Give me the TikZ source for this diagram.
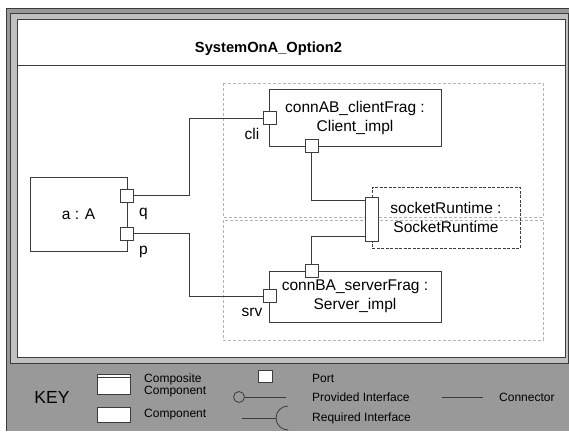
\documentclass[tikz,border=0pt]{standalone}
\usepackage{fontspec}
\setmainfont{Liberation Sans}
\usetikzlibrary{calc}
\definecolor{outergray}{HTML}{999999}
\definecolor{bandgray}{HTML}{C0C0C0}
\definecolor{edge}{HTML}{3C3C3C}
\definecolor{grpgray}{HTML}{B4B4B4}
\newcommand{\cmpfnt}{\fontsize{15.5}{19}\selectfont}
\newcommand{\keyfnt}{\fontsize{12}{14}\selectfont}
\newcommand{\ttlfnt}{\fontsize{14.7}{17}\selectfont\bfseries}
\newcommand{\bigkeyfnt}{\fontsize{17.5}{20}\selectfont}
\begin{document}
\begin{tikzpicture}[x=1pt,y=-1pt,
  comp/.style={draw=edge, line width=0.8pt, fill=white, inner sep=0pt, align=center, font=\cmpfnt},
  port/.style={draw=edge, line width=0.8pt, fill=white, minimum width=13pt, minimum height=13pt, inner sep=0pt},
  conn/.style={draw=edge, line width=0.8pt},
  lbl/.style={inner sep=0pt, font=\cmpfnt},
  keybox/.style={draw=edge, line width=0.8pt, fill=white, inner sep=0pt},
  keytxt/.style={inner sep=0pt, anchor=west, font=\keyfnt},
  frame/.style={draw=edge, line width=1pt},
  grp/.style={draw=grpgray, dash pattern=on 3pt off 2pt, line width=0.7pt}]
\useasboundingbox (0,0) rectangle (569,431);
\fill[white] (0,0) rectangle (569,431);
% outer frame
\fill[outergray] (6,8) rectangle (569,431);
\draw[frame] (6,431) -- (6,8) -- (569,8);
\filldraw[frame, fill=bandgray] (10,13) rectangle (568,363);
\filldraw[frame, fill=white] (17,19) rectangle (565,357);
\draw[frame] (17,65) -- (565,65);
\node[font=\ttlfnt, anchor=base, inner sep=0pt] (title) at (268.5,52.5) {SystemOnA\_Option2};
% groups
\draw[grp] (223,83) rectangle (543,217);
\draw[grp] (223,220) rectangle (543,340);
% component a
\node[comp, minimum width=97pt, minimum height=74pt] (a) at (78.5,214) {a : A};
\node[port] (q) at (126.5,195.5) {};
\node[port] (p) at (126.5,233.5) {};
\node[lbl] (ql) at (143.5,214) {q};
\node[lbl] (pl) at (143.5,252) {p};
% client
\node[comp, minimum width=172pt, minimum height=57pt] (cab) at (355,117.5) {connAB\_clientFrag :\\Client\_impl};
\node[port] (cli) at (269.5,118) {};
\node[port] (cb) at (311.5,145.5) {};
\node[lbl] (clil) at (252,134) {cli};
% socket
\node[comp, fill=none, dash pattern=on 3pt off 1.5pt, minimum width=148pt, minimum height=61pt] (sock) at (446,217.5) {socketRuntime :\\SocketRuntime};
\node[port, minimum height=44pt] (sp) at (371.5,219) {};
% server
\node[comp, minimum width=172pt, minimum height=51pt] (sba) at (355,296.5) {connBA\_serverFrag :\\Server\_impl};
\node[port] (st) at (311.5,270.5) {};
\node[port] (srv) at (269.5,296) {};
\node[lbl] (srvl) at (252,312) {srv};
% connectors
\draw[conn] (q.east) -- ++(56,0) |- (cli.west);
\draw[conn] (p.east) -- ++(56,0) |- (srv.west);
\draw[conn] (cb.south) |- ($(sp.north west)+(0,4)$);
\draw[conn] (st.north) |- ($(sp.south west)+(0,-5)$);
% key
\node[font=\bigkeyfnt, inner sep=0pt] (key) at (52,397) {KEY};
\node[keybox, minimum width=33pt, minimum height=20pt] (kc) at (113.5,384) {};
\draw[conn] ($(kc.north west)+(0,4)$) -- ($(kc.north east)+(0,4)$);
\node[keybox, minimum width=33pt, minimum height=15pt] (kp) at (113.5,414.5) {};
\node[keytxt] (t1) at (144,379) {Composite};
\node[keytxt] (t2) at (144,392) {Component};
\node[keytxt] (t3) at (144,415) {Component};
\node[keybox, minimum width=14pt, minimum height=12pt] (kport) at (265,376) {};
\node[keybox, fill=none, circle, minimum size=11pt] (kcirc) at (239,397) {};
\coordinate (kpe) at (286,397);
\draw[conn] (kcirc.east) -- (kpe);
\coordinate (krs) at (242,418);
\coordinate (kra) at (276,418);
\draw[conn] (krs) -- (kra);
\draw[conn] (288,406) arc[start angle=270, end angle=90, radius=12];
\node[keytxt] (t4) at (312,378) {Port};
\node[keytxt] (t5) at (312,397) {Provided Interface};
\node[keytxt] (t6) at (312,418) {Required Interface};
\coordinate (kcs) at (442,397);
\coordinate (kce) at (483,397);
\draw[conn] (kcs) -- (kce);
\node[keytxt] (t7) at (499,397) {Connector};
\end{tikzpicture}
\end{document}
